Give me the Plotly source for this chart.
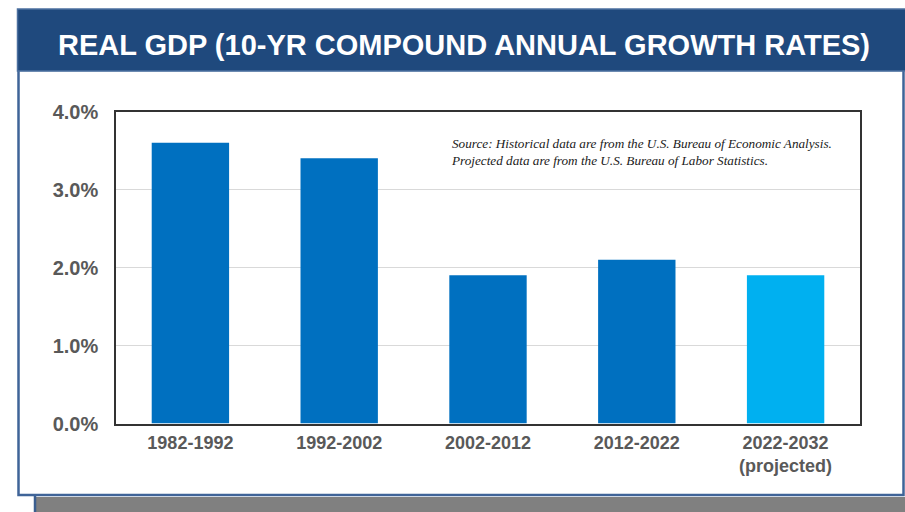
import plotly.graph_objects as go

# Real GDP, 10-year compound annual growth rates (%)
periods = ["1982-1992", "1992-2002", "2002-2012", "2012-2022", "2022-2032<br>(projected)"]
growth = [3.6, 3.4, 1.9, 2.1, 1.9]
bar_colors = ["#0070C0", "#0070C0", "#0070C0", "#0070C0", "#00B0F0"]
y_ticks = [0, 1, 2, 3, 4]
y_tick_labels = ["0.0%", "1.0%", "2.0%", "3.0%", "4.0%"]

W, H = 905, 512


def px(x):
    return x / W


def py(y):
    return 1 - y / H


fig = go.Figure(
    go.Bar(
        x=periods,
        y=growth,
        marker=dict(color=bar_colors, line=dict(width=0)),
        hoverinfo="skip",
    )
)

P = dict(xref="paper", yref="paper", layer="below")
shapes = [
    # grey drop shadow under the panel
    dict(type="rect", x0=px(34), x1=px(906), y0=py(497), y1=py(513),
         fillcolor="#808080", line=dict(width=0), **P),
    dict(type="line", x0=px(35), x1=px(35), y0=py(496), y1=py(513),
         line=dict(color="#3B5E8F", width=2.5), **P),
    # white panel with blue frame
    dict(type="rect", x0=px(18.5), x1=px(903.5), y0=py(70), y1=py(495),
         fillcolor="white", line=dict(color="#3F6498", width=2.5), **P),
    # header band
    dict(type="rect", x0=px(17.5), x1=px(906), y0=py(9), y1=py(71),
         fillcolor="#1F497D", line=dict(color="#4C70A0", width=1.5), **P),
]

fig.update_layout(
    width=W,
    height=H,
    margin=dict(l=0, r=0, t=0, b=0),
    paper_bgcolor="white",
    plot_bgcolor="rgba(0,0,0,0)",
    showlegend=False,
    bargap=0.48,
    shapes=shapes,
    font=dict(family="Liberation Sans, Arial, sans-serif"),
    xaxis=dict(
        domain=[px(116), px(860)],
        automargin=False,
        showline=True,
        mirror=True,
        linecolor="#333333",
        linewidth=1.5,
        ticks="",
        ticklabelstandoff=2,
        tickfont=dict(size=18, color="#595959", weight="bold"),
        showgrid=False,
        fixedrange=True,
    ),
    yaxis=dict(
        domain=[py(423.5), py(111.5)],
        automargin=False,
        range=[0, 4],
        tickvals=y_ticks,
        ticktext=y_tick_labels,
        showline=True,
        mirror=True,
        linecolor="#333333",
        linewidth=1.5,
        showgrid=True,
        gridcolor="#D9D9D9",
        gridwidth=1,
        zeroline=False,
        ticks="",
        ticklabelstandoff=12,
        tickfont=dict(size=20, color="#595959", weight="bold"),
        fixedrange=True,
    ),
    annotations=[
        dict(
            text="REAL GDP (10-YR COMPOUND ANNUAL GROWTH RATES)",
            xref="paper", yref="paper",
            x=px(464), y=py(45),
            xanchor="center", yanchor="middle",
            showarrow=False,
            font=dict(size=29, color="white", weight="bold",
                      family="Liberation Sans, Arial, sans-serif"),
        ),
        dict(
            text="Source: Historical data are from the U.S. Bureau of Economic Analysis.<br>"
                 "Projected data are from the U.S. Bureau of Labor Statistics.",
            xref="paper", yref="paper",
            x=px(449), y=py(152),
            xanchor="left", yanchor="middle",
            align="left",
            showarrow=False,
            font=dict(size=13.2, color="#1A1A1A", style="italic",
                      family="Liberation Serif, Times New Roman, serif"),
        ),
    ],
)

fig.write_html("out.html")
